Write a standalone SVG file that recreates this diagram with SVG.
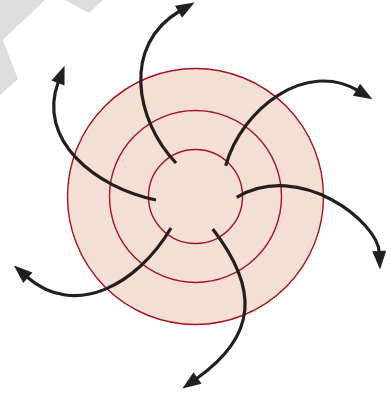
<svg xmlns="http://www.w3.org/2000/svg" width="391" height="395" viewBox="0 0 391 395">
  <style>
    .ring { fill: none; stroke: #a8121f; stroke-width: 1.4; }
    .disk { fill: #f4dfd5; stroke: #a8121f; stroke-width: 1.4; }
    .arrow { fill: none; stroke: #231f20; stroke-width: 3.2; marker-end: url(#head); }
    .bg { fill: #dcdde0; }
  </style>
  <defs>
    <marker id="head" markerUnits="userSpaceOnUse" orient="auto" refX="0" refY="0" markerWidth="30" markerHeight="30" viewBox="-5 -10 30 20" overflow="visible">
      <path d="M-1.5,-7 L17,0 L-1.5,7 Z" fill="#231f20"/>
    </marker>
  </defs>
  <rect width="391" height="395" fill="#ffffff"/>
  <g id="background-shape">
    <polygon class="bg" points="0,0 45,0 2.7,40 18,79 0,95"/>
    <polygon class="bg" points="65,0 89,13 103,0"/>
  </g>
  <g id="rings">
    <circle id="outer-ring" class="disk" cx="195.5" cy="196.5" r="128"/>
    <circle id="middle-ring" class="ring" cx="195.5" cy="196.5" r="86"/>
    <circle id="inner-ring" class="ring" cx="195.5" cy="196.5" r="47"/>
  </g>
  <g id="connectors">
    <path class="arrow" d="M176,163 C135,120 122,45 179.8,11"/>
    <path class="arrow" d="M156,200 C96,188 36,140 58.5,81.5"/>
    <path class="arrow" d="M225.7,165.7 C242,108 306,60 357.8,90.5"/>
    <path class="arrow" d="M236.7,197.3 C300,160 378,222 379.3,252.5"/>
    <path class="arrow" d="M212.7,229 C258.7,288.3 257.8,335.7 196.3,378.8"/>
    <path class="arrow" d="M171,228 C137.9,284 75.6,319.4 26.7,276.7"/>
  </g>
</svg>
